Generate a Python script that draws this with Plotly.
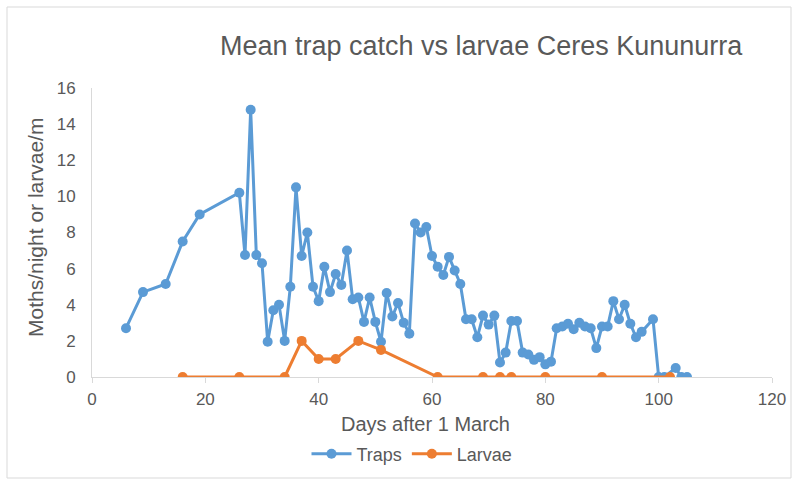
import plotly.graph_objects as go

# Mean nightly trap catch (moths/night) by day after 1 March
trap_days = [6, 9, 13, 16, 19, 26, 27, 28, 29, 30, 31, 32, 33, 34, 35, 36, 37, 38,
             39, 40, 41, 42, 43, 44, 45, 46, 47, 48, 49, 50, 51, 52, 53, 54, 55, 56,
             57, 58, 59, 60, 61, 62, 63, 64, 65, 66, 67, 68, 69, 70, 71, 72, 73, 74,
             75, 76, 77, 78, 79, 80, 81, 82, 83, 84, 85, 86, 87, 88, 89, 90, 91, 92,
             93, 94, 95, 96, 97, 99, 100, 101, 103, 104, 105]
trap_catch = [2.7, 4.7, 5.15, 7.5, 9.0, 10.2, 6.75, 14.8, 6.75, 6.3, 1.95, 3.7, 4.0,
              2.0, 5.0, 10.5, 6.7, 8.0, 5.0, 4.2, 6.1, 4.7, 5.7, 5.1, 7.0, 4.3, 4.4,
              3.05, 4.4, 3.05, 1.95, 4.65, 3.35, 4.1, 3.0, 2.4,
              8.5, 8.0, 8.3, 6.7, 6.1, 5.65, 6.65, 5.9, 5.15, 3.2, 3.2, 2.2, 3.4, 2.9,
              3.4, 0.8, 1.35, 3.1, 3.1, 1.35, 1.25, 0.95, 1.1, 0.7, 0.85, 2.7, 2.8,
              2.95, 2.65, 3.0, 2.8, 2.7, 1.6, 2.8, 2.8, 4.2, 3.2, 4.0, 2.95, 2.2, 2.5,
              3.2, 0.0, 0.0, 0.5, 0.0, 0.0]

# Larvae per metre of row on sampling days
larvae_days = [16, 26, 34, 37, 40, 43, 47, 51, 61, 69, 72, 74, 80, 90, 102]
larvae_count = [0, 0, 0, 2, 1, 1, 2, 1.5, 0, 0, 0, 0, 0, 0, 0]

x_ticks = [0, 20, 40, 60, 80, 100, 120]
y_ticks = [0, 2, 4, 6, 8, 10, 12, 14, 16]

BLUE = "#5B9BD5"
ORANGE = "#ED7D31"
TEXT = "#595959"
AXIS = "#D9D9D9"
FONT = "Liberation Sans"

# plot-area pixel geometry, used to place items in paper coordinates
W, H = 798, 484
L, R, T, B = 92, 26, 88, 107
PW, PH = W - L - R, H - T - B


def px(x):
    return (x - L) / PW


def py(y):
    return (H - B - y) / PH


fig = go.Figure()
fig.add_trace(go.Scatter(
    x=trap_days, y=trap_catch, name="Traps", mode="lines+markers",
    line=dict(color=BLUE, width=3),
    marker=dict(color=BLUE, size=10, symbol="circle"),
))
fig.add_trace(go.Scatter(
    x=larvae_days, y=larvae_count, name="Larvae", mode="lines+markers",
    line=dict(color=ORANGE, width=3),
    marker=dict(color=ORANGE, size=10, symbol="circle"),
))

fig.update_layout(
    width=W, height=H,
    margin=dict(l=L, r=R, t=T, b=B),
    paper_bgcolor="white", plot_bgcolor="white",
    font=dict(family=FONT, color=TEXT, size=17),
    showlegend=True,
    legend=dict(orientation="h", x=px(412), xanchor="center",
                y=py(454), yanchor="middle",
                font=dict(size=18, color=TEXT), itemwidth=40,
                bgcolor="rgba(0,0,0,0)"),
    xaxis=dict(range=[0, 120], tickvals=x_ticks, showgrid=False, zeroline=False,
               showline=True, linecolor=AXIS, linewidth=1,
               ticks="outside", ticklen=5, tickcolor=AXIS,
               tickfont=dict(size=17, color=TEXT), ticklabelstandoff=2),
    yaxis=dict(range=[0, 16], tickvals=y_ticks, showgrid=False, zeroline=False,
               showline=True, linecolor=AXIS, linewidth=1, ticks="",
               tickfont=dict(size=17, color=TEXT), ticklabelstandoff=12),
    shapes=[dict(type="rect", xref="paper", yref="paper",
                 x0=px(7), x1=px(791), y0=py(478), y1=py(7),
                 line=dict(color=AXIS, width=1), fillcolor="rgba(0,0,0,0)",
                 layer="below")],
    annotations=[
        dict(text="Mean trap catch vs larvae Ceres Kununurra", xref="paper", yref="paper",
             x=px(481), y=py(46), xanchor="center", yanchor="middle", showarrow=False,
             font=dict(size=27, color=TEXT, family=FONT)),
        dict(text="Days after 1 March", xref="paper", yref="paper",
             x=px(425), y=py(424), xanchor="center", yanchor="middle", showarrow=False,
             font=dict(size=20, color=TEXT, family=FONT)),
        dict(text="Moths/night or larvae/m", xref="paper", yref="paper",
             x=px(35), y=py(228), xanchor="center", yanchor="middle", showarrow=False,
             textangle=-90, font=dict(size=21, color=TEXT, family=FONT)),
    ],
)

fig.write_html("out.html")
